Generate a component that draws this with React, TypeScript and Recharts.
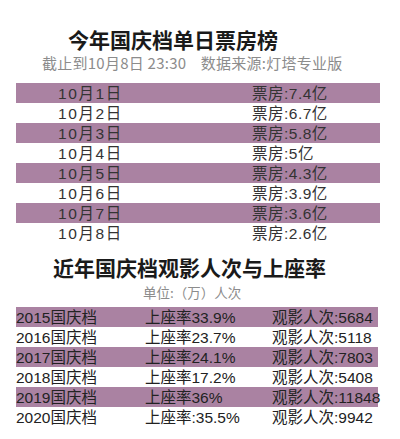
import { Bar, BarChart, LabelList, ReferenceArea, XAxis, YAxis } from "recharts";

// 今年国庆档单日票房
const dates = ["10月1日", "10月2日", "10月3日", "10月4日", "10月5日", "10月6日", "10月7日", "10月8日"];
const boxOffice = [7.4, 6.7, 5.8, 5, 4.3, 3.9, 3.6, 2.6];

// 近年国庆档观影人次与上座率
const years = ["2015", "2016", "2017", "2018", "2019", "2020"];
const occupancy = [33.9, 23.7, 24.1, 17.2, 36, 35.5];
const occupancySep = ["", "", "", "", "", ":"];
const attendance = [5684, 5118, 7803, 5408, 11848, 9942];

const BAND = "#aa82a2";
const FONT = '"Liberation Sans", "Noto Sans CJK SC", sans-serif';
const CJK = '"Noto Sans CJK SC", sans-serif';

const dailyRows = dates.map((date, i) => ({
  date,
  boxOffice: boxOffice[i],
  boxOfficeText: `票房:${boxOffice[i]}亿`
}));

const yearRows = years.map((year, i) => ({
  year: `${year}国庆档`,
  attendance: attendance[i],
  occupancyText: `上座率${occupancySep[i]}${occupancy[i]}%`,
  attendanceText: `观影人次:${attendance[i]}`
}));

const textAt = (x: number, fill: string, spacing = 0) => (props: any) => {
  const vb = props.viewBox ?? props;
  const cy = Number(vb.y) + Number(vb.height) / 2;
  return (
    <text
      x={x}
      y={cy}
      dominantBaseline="central"
      fill={fill}
      fontSize={15.5}
      fontFamily={FONT}
      letterSpacing={spacing}
    >
      {props.value}
    </text>
  );
};

const title = (text: string, left: number, top: number) => (
  <div
    style={{
      position: "absolute",
      left,
      top,
      fontFamily: CJK,
      fontSize: 21,
      fontWeight: 700,
      lineHeight: "21px",
      color: "#1a1a1a",
      whiteSpace: "nowrap"
    }}
  >
    {text}
  </div>
);

const note = (text: string, left: number, top: number, size: number, spacing = 0) => (
  <div
    style={{
      position: "absolute",
      left,
      top,
      fontFamily: CJK,
      fontSize: size,
      lineHeight: `${size}px`,
      letterSpacing: spacing,
      color: "#8c8c8c",
      whiteSpace: "pre"
    }}
  >
    {text}
  </div>
);

export default function App() {
  return (
    <div style={{ position: "absolute", left: 0, top: 0, width: 400, height: 439, background: "#fff" }}>
      {title("今年国庆档单日票房榜", 68, 29)}
      {note("截止到10月8日 23:30    数据来源:灯塔专业版", 42, 55, 15, 0.25)}

      <div style={{ position: "absolute", left: 0, top: 83 }}>
        <BarChart
          width={400}
          height={160}
          data={dailyRows}
          layout="vertical"
          barCategoryGap={0}
          margin={{ top: 0, right: 20, bottom: 0, left: 16 }}
        >
          <XAxis type="number" hide domain={[0, 10]} />
          <YAxis type="category" dataKey="date" hide />
          {dates.map((d, i) =>
            i % 2 === 0 ? (
              <ReferenceArea key={d} y1={d} y2={d} fill={BAND} fillOpacity={1} stroke="none" ifOverflow="visible" />
            ) : null
          )}
          <Bar dataKey="boxOffice" fill="transparent" isAnimationActive={false}>
            <LabelList dataKey="date" content={textAt(58, "#333", 1.6)} />
            <LabelList dataKey="boxOfficeText" content={textAt(252, "#333", 0.5)} />
          </Bar>
        </BarChart>
      </div>

      {title("近年国庆档观影人次与上座率", 53, 257)}
      {note("单位:（万）人次", 143, 286, 13.5)}

      <div style={{ position: "absolute", left: 0, top: 307 }}>
        <BarChart
          width={400}
          height={120}
          data={yearRows}
          layout="vertical"
          barCategoryGap={0}
          margin={{ top: 0, right: 22, bottom: 0, left: 16 }}
        >
          <XAxis type="number" hide domain={[0, 12000]} />
          <YAxis type="category" dataKey="year" hide />
          {yearRows.map((r, i) =>
            i % 2 === 0 ? (
              <ReferenceArea
                key={r.year}
                y1={r.year}
                y2={r.year}
                fill={BAND}
                fillOpacity={1}
                stroke="none"
                ifOverflow="visible"
              />
            ) : null
          )}
          <Bar dataKey="attendance" fill="transparent" isAnimationActive={false}>
            <LabelList dataKey="year" content={textAt(16, "#222")} />
            <LabelList dataKey="occupancyText" content={textAt(145, "#222")} />
            <LabelList dataKey="attendanceText" content={textAt(272, "#222")} />
          </Bar>
        </BarChart>
      </div>
    </div>
  );
}
